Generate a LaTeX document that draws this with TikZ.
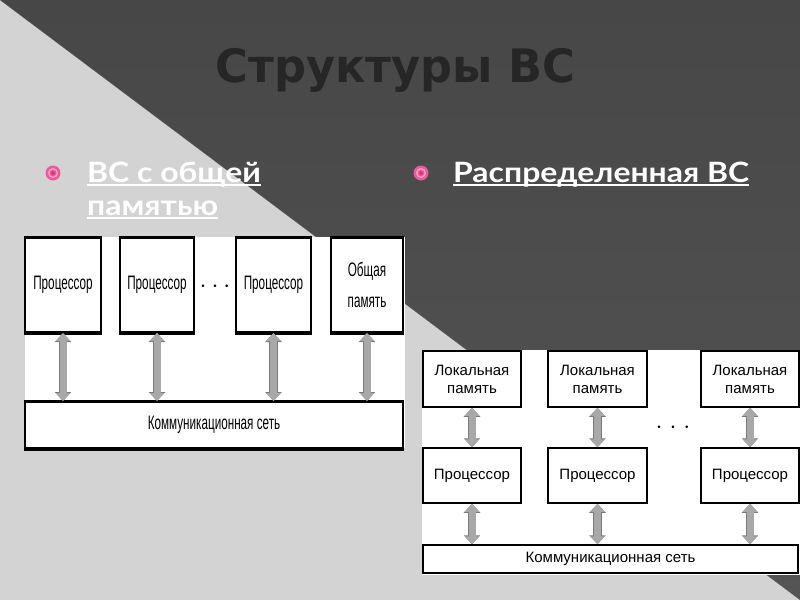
\documentclass[tikz,border=0pt]{standalone}
\usepackage{fontspec}
\setmainfont{Liberation Sans}
\newfontfamily\titlefont[FakeStretch=0.97]{DejaVu Sans}
\newfontfamily\bulletfont[FakeStretch=1.14]{Lato}
\newfontfamily\narrowfont[FakeStretch=0.6]{Liberation Sans}
\usetikzlibrary{arrows.meta,calc}
\definecolor{bglight}{HTML}{D3D3D3}
\definecolor{bgdarktop}{HTML}{474747}
\definecolor{bgdarkbot}{HTML}{545454}
\definecolor{titlecol}{HTML}{262626}
\definecolor{arrowfill}{HTML}{A8A8A8}
\definecolor{arrowline}{HTML}{7A7A7A}
\definecolor{pinkA}{HTML}{EE5A95}
\definecolor{pinkB}{HTML}{F7A8C8}
\definecolor{pinkC}{HTML}{D63C7A}
\tikzset{
  lbox/.style={draw=black, fill=white, line width=2pt, inner sep=0pt, align=center,
     font=\narrowfont\fontsize{19.5}{31}\selectfont},
  rbox/.style={draw=black, fill=white, line width=1.5pt, inner sep=0pt, align=center,
     font=\fontsize{15}{18}\selectfont},
  fat/.style={line width=7pt, draw=arrowfill,
     {Triangle[width=14pt,length=8pt]}-{Triangle[width=14pt,length=8pt]},
     preaction={draw=arrowline, line width=8.6pt,
     {Triangle[width=16pt,length=9pt]}-{Triangle[width=16pt,length=9pt]}}},
  bullettext/.style={text=white, inner sep=0pt, anchor=base west,
     font=\bulletfont\bfseries\fontsize{28}{33}\selectfont},
  uline/.style={draw=white, line width=2pt},
  dots/.style={font=\fontsize{26}{26}\selectfont, text=black, inner sep=0pt}
}
\begin{document}
\begin{tikzpicture}[x=1pt,y=-1pt]
\useasboundingbox (0,0) rectangle (800,600);
% background
\fill[bglight] (0,0) rectangle (800,600);
\shade[top color=bgdarktop, bottom color=bgdarkbot] (0,0) -- (800,0) -- (800,600) -- cycle;
% title
\node[anchor=base, text=titlecol, inner sep=0pt, font=\titlefont\bfseries\fontsize{46}{50}\selectfont] (title) at (395.5,82) {Структуры ВС};
% bullets
\coordinate (b1) at (53,173);
\coordinate (b2) at (421,173);
\foreach \c in {b1,b2}{
  \fill[pinkA] (\c) circle (7.5);
  \draw[pinkB, line width=1.2pt] (\c) circle (4.3);
  \fill[pinkC] (\c) circle (2);
}
\node[bullettext] (t1) at (87,182) {ВС с общей};
\node[bullettext] (t2) at (87,215) {памятью};
\node[bullettext] (t3) at (453,182) {Распределенная ВС};
\foreach \t in {t1,t2,t3}{
  \draw[uline] ($(\t.base west)+(0,3)$) -- ($(\t.base east)+(0,3)$);
}
% left diagram
\fill[white] (25,237) rectangle (405,448);
\node[lbox, minimum width=76pt, minimum height=94pt] (p1) at (63,285) {Процессор};
\node[lbox, minimum width=74pt, minimum height=94pt] (p2) at (157,285) {Процессор};
\node[lbox, minimum width=75pt, minimum height=94pt] (p3) at (273.5,285) {Процессор};
\node[lbox, minimum width=72pt, minimum height=94pt] (m) at (367,285) {Общая\\память};
\node[lbox, minimum width=378pt, minimum height=46pt] (net) at (214,425) {Коммуникационная сеть};
\foreach \n in {p1,p2,p3,m,net}{
  \draw[line width=3pt] (\n.north west) -- (\n.north east);
  \draw[line width=3pt] (\n.south west) -- (\n.south east);
}
\node[dots] (d1) at (215,287) {$\cdot$\hspace{5pt}$\cdot$\hspace{5pt}$\cdot$};
\foreach \n in {p1,p2,p3,m}{
  \draw[fat] (\n.south) -- (\n.south |- net.north);
}
% right diagram
\fill[white] (422,350) rectangle (800,575);
\node[rbox, minimum width=98pt, minimum height=56pt] (l1) at (472,379) {Локальная\\память};
\node[rbox, minimum width=99pt, minimum height=56pt] (l2) at (597.5,379) {Локальная\\память};
\node[rbox, minimum width=98pt, minimum height=56pt] (l3) at (750,379) {Локальная\\память};
\node[rbox, minimum width=98pt, minimum height=55pt] (q1) at (472,475.5) {Процессор};
\node[rbox, minimum width=99pt, minimum height=55pt] (q2) at (597.5,475.5) {Процессор};
\node[rbox, minimum width=98pt, minimum height=55pt] (q3) at (750,475.5) {Процессор};
\node[rbox, minimum width=375pt, minimum height=28pt] (rnet) at (610.5,559) {Коммуникационная сеть};
\node[dots] (d2) at (673,428) {$\cdot$\hspace{7pt}$\cdot$\hspace{7pt}$\cdot$};
\foreach \a/\b in {l1/q1,l2/q2,l3/q3}{
  \draw[fat] (\a.south) -- (\b.north);
  \draw[fat] (\b.south) -- (\b.south |- rnet.north);
}
\end{tikzpicture}
\end{document}
